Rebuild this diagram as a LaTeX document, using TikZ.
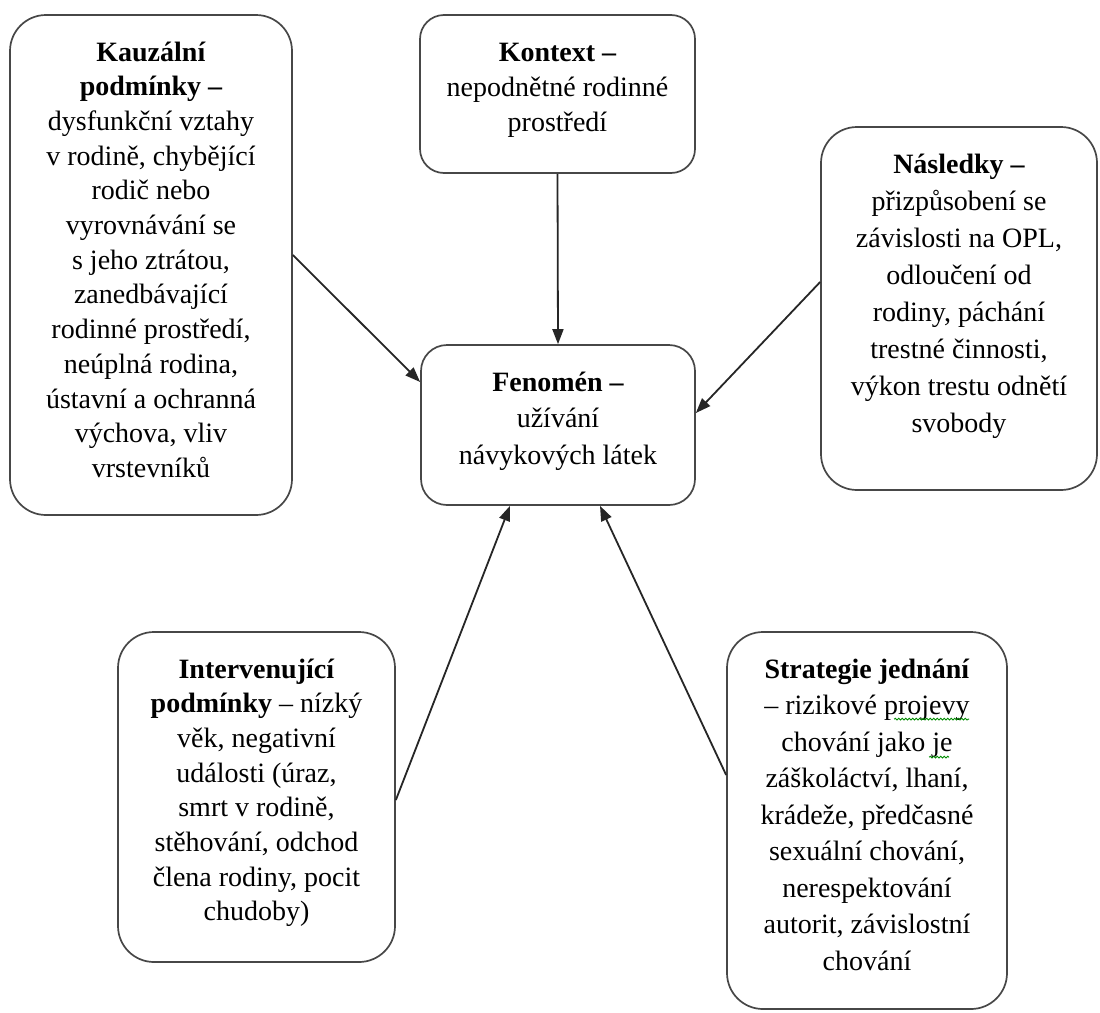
\documentclass[tikz,border=0pt]{standalone}
\usepackage{fontspec}
\setmainfont{Liberation Serif}
\usetikzlibrary{arrows.meta,decorations.pathmorphing}

% text of a box: width, height, line distance, lines
\newcommand{\boxtext}[4]{\parbox[c][#2][t]{#1}{\centering\fontsize{28pt}{#3}\selectfont\rule{0pt}{46pt}#4}}

\begin{document}
\begin{tikzpicture}[x=1pt,y=-1pt,
                    box node/.style={rectangle,draw=black!72,line width=1.7pt,rounded corners=36pt,inner sep=0pt,fill=white},
                    link/.style={-{Triangle[length=15pt,width=11pt]},line width=1.8pt,draw=black!85},
                    spell/.style={green!55!black,line width=0.9pt,decorate,decoration={snake,amplitude=0.9pt,segment length=3.5pt}}]

  \useasboundingbox (0,0) rectangle (1100,1012);
  \fill[white] (0,0) rectangle (1100,1012);

  \node[box node] (kauzal) at (151,265) {\boxtext{282pt}{500pt}{34.7pt}{\textbf{Kauzální}\\
      \textbf{podmínky –}\\ dysfunkční vztahy\\ v~rodině, chybějící\\ rodič nebo\\ vyrovnávání se\\
      s~jeho ztrátou,\\ zanedbávající\\ rodinné prostředí,\\ neúplná rodina,\\ ústavní a ochranná\\
      výchova, vliv\\ vrstevníků}};
  \node[box node,rounded corners=24pt] (kontext) at (557.5,94) {\boxtext{275pt}{158pt}{35pt}{\textbf{Kontext –}\\
      nepodnětné rodinné\\ prostředí}};
  \node[box node] (nasledky) at (959,308.5) {\boxtext{276pt}{363pt}{37pt}{\textbf{Následky –}\\
      přizpůsobení se\\ závislosti na OPL,\\ odloučení od\\ rodiny, páchání\\ trestné činnosti,\\
      výkon trestu odnětí\\ svobody}};
  \node[box node,rounded corners=26pt] (fenomen) at (558,425) {\boxtext{274pt}{160pt}{36.5pt}{\textbf{Fenomén –}\\
      užívání\\ návykových látek}};
  \node[box node] (interv) at (256.5,797) {\boxtext{277pt}{330pt}{34.7pt}{\textbf{Intervenující}\\
      \textbf{podmínky} – nízký\\ věk, negativní\\ události (úraz,\\ smrt v~rodině,\\
      stěhování, odchod\\ člena rodiny, pocit\\ chudoby)}};
  \node[box node] (strategie) at (867,820.5) {\boxtext{280pt}{377pt}{36.5pt}{\textbf{Strategie jednání}\\
      – rizikové projevy\\ chování jako je\\ záškoláctví, lhaní,\\ krádeže, předčasné\\
      sexuální chování,\\ nerespektování\\ autorit, závislostní\\ chování}};

  % spell check marks
  \draw[spell] ([xshift=168pt,yshift=-88pt]strategie.north west) -- ([xshift=243pt,yshift=-88pt]strategie.north west);
  \draw[spell] ([xshift=203pt,yshift=-126pt]strategie.north west) -- ([xshift=223pt,yshift=-126pt]strategie.north west);

  \draw[link] ([yshift=10pt]kauzal.east) -- ([yshift=43pt]fenomen.west);
  \draw[link] (kontext.south) -- (fenomen.north);
  \draw[link] ([yshift=26.5pt]nasledky.west) -- ([yshift=12pt]fenomen.east);
  \draw[link] ([yshift=-3pt]interv.east) -- ([xshift=-48pt]fenomen.south);
  \draw[link] ([yshift=45.5pt]strategie.west) -- ([xshift=42pt]fenomen.south);
\end{tikzpicture}
\end{document}
